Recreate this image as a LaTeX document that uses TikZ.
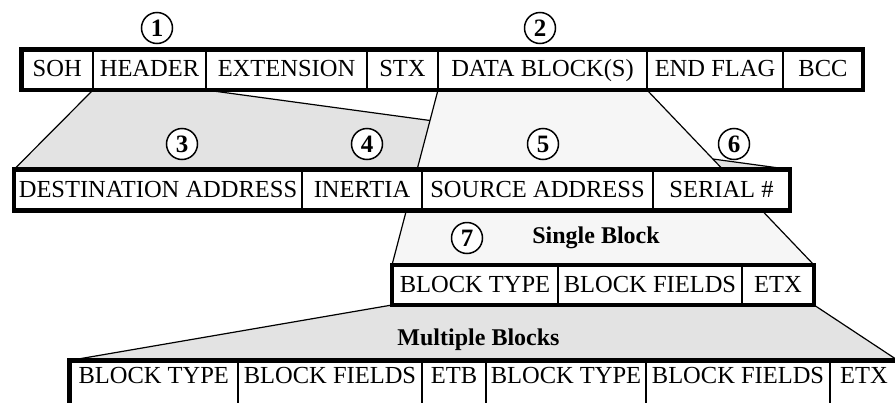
\documentclass[tikz,border=0pt]{standalone}
\usepackage{fontspec}
\setmainfont{Liberation Serif}
\definecolor{fandark}{RGB}{227,227,227}
\definecolor{fanlight}{RGB}{246,246,246}
\pgfdeclarelayer{background}
\pgfsetlayers{background,main}
\tikzset{
  cell/.style={draw, line width=2pt, fill=white, inner sep=0pt, outer sep=0pt,
    font=\fontsize{24.5}{28}\selectfont, text height=16pt, text depth=2pt},
  lowcell/.style={cell, text depth=14pt},
  outerbox/.style={draw, line width=4.8pt},
  fanline/.style={draw, line width=1.2pt},
  num/.style={circle, draw, line width=1.5pt, minimum size=31pt, inner sep=0pt,
    fill=white, font=\fontsize{25}{28}\selectfont\bfseries},
  lbl/.style={inner sep=0pt, font=\fontsize{24}{28}\selectfont\bfseries}
}
% name, x1, x2, y1, y2, style, text
\newcommand{\mkcell}[7]{\node[#6, minimum width={(#3-#2)*1pt}, minimum height={(#5-#4)*1pt}] (#1) at ({(#2+#3)/2},{(#4+#5)/2}) {#7};}
\begin{document}
\begin{tikzpicture}[x=1pt,y=-1pt]
\useasboundingbox (0,0) rectangle (895,402);
\clip (0,0) rectangle (895,402);
% Row 1
\mkcell{soh}{21.5}{93}{49.5}{90}{cell}{SOH}
\mkcell{header}{93}{206}{49.5}{90}{cell}{HEADER}
\mkcell{ext}{206}{367}{49.5}{90}{cell}{EXTENSION}
\mkcell{stx}{367}{438}{49.5}{90}{cell}{STX}
\mkcell{data}{438}{647}{49.5}{90}{cell}{DATA BLOCK(S)}
\mkcell{endf}{647}{783}{49.5}{90}{cell}{END FLAG}
\mkcell{bcc}{783}{863}{49.5}{90}{cell}{BCC}
\draw[outerbox] (soh.north west) rectangle (bcc.south east);
% Row 2
\mkcell{dest}{14}{302}{169.5}{210.5}{cell}{DESTINATION ADDRESS}
\mkcell{inertia}{302}{422}{169.5}{210.5}{cell}{INERTIA}
\mkcell{source}{422}{653}{169.5}{210.5}{cell}{SOURCE ADDRESS}
\mkcell{serial}{653}{790}{169.5}{210.5}{cell}{SERIAL \#}
\draw[outerbox] (dest.north west) rectangle (serial.south east);
% Row 3
\mkcell{btA}{392}{558}{265}{305}{cell}{BLOCK TYPE}
\mkcell{bfA}{558}{742}{265}{305}{cell}{BLOCK FIELDS}
\mkcell{etxA}{742}{814}{265}{305}{cell}{ETX}
\draw[outerbox] (btA.north west) rectangle (etxA.south east);
% Row 4
\mkcell{btB}{69.5}{238}{360.5}{405}{lowcell}{BLOCK TYPE}
\mkcell{bfB}{238}{422}{360.5}{405}{lowcell}{BLOCK FIELDS}
\mkcell{etb}{422}{486}{360.5}{405}{lowcell}{ETB}
\mkcell{btC}{486}{646}{360.5}{405}{lowcell}{BLOCK TYPE}
\mkcell{bfC}{646}{830}{360.5}{405}{lowcell}{BLOCK FIELDS}
\mkcell{etxB}{830}{898}{360.5}{405}{lowcell}{ETX}
\draw[outerbox] (btB.north west) rectangle (etxB.south east);
% Fans (behind the boxes)
\begin{pgfonlayer}{background}
\fill[fandark] (header.south west) -- (header.south east) -- (serial.north east) -- (dest.north west) -- cycle;
\draw[fanline] (header.south west) -- (dest.north west);
\draw[fanline] (header.south east) -- (serial.north east);
\fill[fanlight] (data.south west) -- (data.south east) -- (etxA.north east) -- (btA.north west) -- cycle;
\draw[fanline] (data.south west) -- (btA.north west);
\draw[fanline] (data.south east) -- (etxA.north east);
\fill[fandark] (btA.south west) -- (etxA.south east) -- (etxB.north east) -- (btB.north west) -- cycle;
\draw[fanline] (btA.south west) -- (btB.north west);
\draw[fanline] (etxA.south east) -- (etxB.north east);
\end{pgfonlayer}
% Numbers
\node[num] (n1) at (157,28) {1};
\node[num] (n2) at (540,28) {2};
\node[num] (n3) at (182,144) {3};
\node[num] (n4) at (367,144) {4};
\node[num] (n5) at (543,144) {5};
\node[num] (n6) at (734,144) {6};
\node[num] (n7) at (467,238) {7};
% Labels
\node[lbl] (single) at (596,238) {Single Block};
\node[lbl] (multi) at (478.5,340) {Multiple Blocks};
\end{tikzpicture}
\end{document}
